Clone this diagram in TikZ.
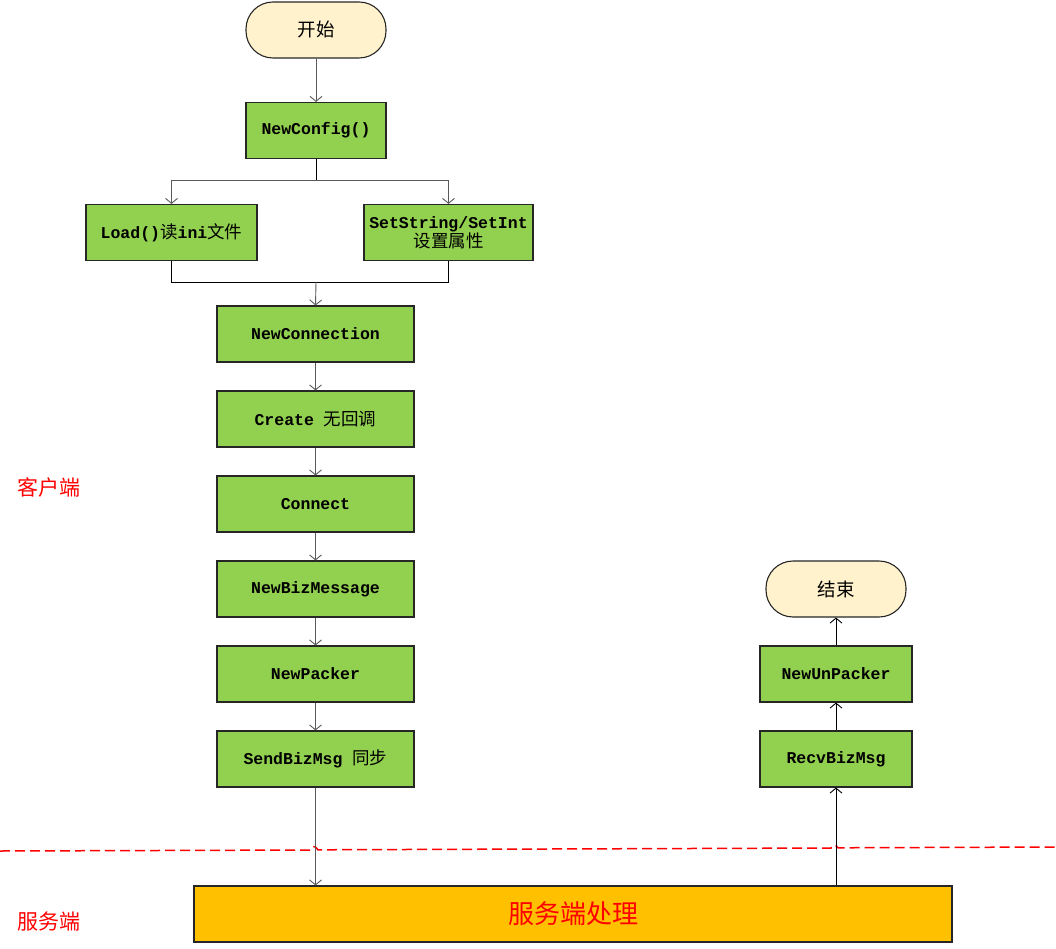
\documentclass[tikz,border=0pt]{standalone}
\usepackage{fontspec}
\setmainfont{Liberation Mono}
\newfontfamily\cjk{Noto Sans CJK SC}
\usetikzlibrary{arrows.meta}
\definecolor{boxgreen}{HTML}{92D050}
\definecolor{cream}{HTML}{FFF2CC}
\definecolor{gold}{HTML}{FFC000}
\definecolor{redtxt}{HTML}{FF0000}
\definecolor{arrgray}{HTML}{5A5A5A}
\tikzset{
  stepbox/.style={draw=black!85, line width=1.1pt, fill=boxgreen, minimum height=56pt, inner sep=0pt, font=\bfseries\fontsize{16.5}{20}\selectfont, align=center},
  term/.style={draw=black!85, line width=1.1pt, fill=cream, minimum height=56pt, minimum width=140pt, rounded corners=27pt, inner sep=0pt, font=\cjk\fontsize{18.5}{22}\selectfont},
  arr/.style={draw=arrgray, line width=0.9pt, -{Straight Barb[length=5pt,width=12pt]}},
  arrb/.style={draw=black, line width=0.9pt, -{Straight Barb[length=5pt,width=12pt]}},
  conn/.style={draw=black, line width=0.9pt},
  side/.style={text=redtxt, font=\cjk\fontsize{21}{24}\selectfont, inner sep=0pt},
}
\newcommand{\zh}[1]{{\cjk\mdseries\fontsize{17.5}{20}\selectfont #1}}
\begin{document}
\begin{tikzpicture}[x=1pt,y=-1pt]
\path[use as bounding box] (0,0) rectangle (1056,949);
% nodes
\node[term] (start) at (316,30) {开始};
\node[stepbox, minimum width=140pt] (cfg) at (316,130.5) {NewConfig()};
\node[stepbox, minimum width=171pt] (load) at (171.5,232.5) {Load()\zh{读}ini\zh{文件}};
\node[stepbox, minimum width=169pt] (set) at (448.5,232.5) {SetString/SetInt\\[-1pt]\zh{设置属性}};
\node[stepbox, minimum width=197pt] (nconn) at (315.5,334) {NewConnection};
\node[stepbox, minimum width=197pt] (create) at (315.5,419) {Create \zh{无回调}};
\node[stepbox, minimum width=197pt] (connect) at (315.5,504) {Connect};
\node[stepbox, minimum width=197pt] (biz) at (315.5,589) {NewBizMessage};
\node[stepbox, minimum width=197pt] (packer) at (315.5,674) {NewPacker};
\node[stepbox, minimum width=197pt] (send) at (315.5,759) {SendBizMsg \zh{同步}};
\node[draw=black!85, line width=1.1pt, fill=gold, minimum width=758pt, minimum height=56pt, inner sep=0pt, text=redtxt, font=\cjk\fontsize{26}{30}\selectfont] (server) at (573,914) {服务端处理};
\node[stepbox, minimum width=152pt] (recv) at (836,759) {RecvBizMsg};
\node[stepbox, minimum width=152pt] (unpack) at (836,674) {NewUnPacker};
\node[term] (end) at (836,589) {结束};
\node[side] (client) at (49,487) {客户端};
\node[side] (svlabel) at (49,922) {服务端};
% dashed separator
\draw[redtxt, line width=1.5pt, dash pattern=on 10pt off 5pt]
  (0,851) -- (311,850) .. controls (313,845.5) and (315,845.5) .. (318,849.8)
  -- (831,848) .. controls (833,844) and (835,844) .. (838,847.8) -- (1056,847);
% connectors
\draw[arr] (start) -- (cfg);
\coordinate (b1) at (316,180);
\draw[conn] (cfg.south) -- (b1);
\draw[arr] (b1) -| (load.north);
\draw[arr] (b1) -| (set.north);
\coordinate (m1) at (316,282);
\draw[conn] (load.south) |- (m1);
\draw[conn] (set.south) |- (m1);
\draw[arr] (m1) -- (nconn.north);
\draw[arr] (nconn) -- (create);
\draw[arr] (create) -- (connect);
\draw[arr] (connect) -- (biz);
\draw[arr] (biz) -- (packer);
\draw[arr] (packer) -- (send);
\draw[arr] (send.south) -- (send.south |- server.north);
\draw[arrb] (server.north -| recv.south) -- (recv.south);
\draw[arrb] (recv) -- (unpack);
\draw[arrb] (unpack) -- (end);
\end{tikzpicture}
\end{document}
